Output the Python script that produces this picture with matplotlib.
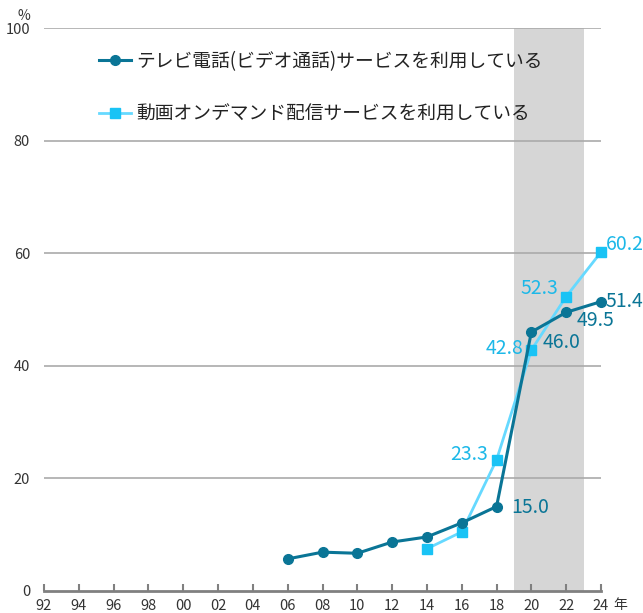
import matplotlib
matplotlib.use("Agg")
from matplotlib import pyplot as plt

plt.rcParams["font.family"] = ["Noto Sans CJK JP", "DejaVu Sans"]

years = [1992 + 2 * i for i in range(17)]
year_labels = ["92", "94", "96", "98", "00", "02", "04", "06", "08", "10",
               "12", "14", "16", "18", "20", "22", "24"]

tv_years = [2006, 2008, 2010, 2012, 2014, 2016, 2018, 2020, 2022, 2024]
tv_values = [5.7, 6.9, 6.7, 8.7, 9.6, 12.1, 15.0, 46.0, 49.5, 51.4]
tv_label = "テレビ電話(ビデオ通話)サービスを利用している"

vod_years = [2014, 2016, 2018, 2020, 2022, 2024]
vod_values = [7.5, 10.5, 23.3, 42.8, 52.3, 60.2]
vod_label = "動画オンデマンド配信サービスを利用している"

dark = "#0a7596"
light_line = "#66d9ff"
light_mark = "#19c3f5"
light_text = "#1cb8e8"

fig = plt.figure(figsize=(6.43, 6.13), dpi=100)
ax = fig.add_axes([44 / 643, 1 - 591 / 613, (601 - 44) / 643, (591 - 28) / 613])

ax.axvspan(2019, 2023, color="#d6d6d6", zorder=0, lw=0)
for y in [20, 40, 60, 80, 100]:
    ax.axhline(y, color="#aaaaaa", lw=1.2, zorder=1)

ax.plot(tv_years, tv_values, color=dark, lw=2.2, marker="o", ms=7,
        label=tv_label, zorder=4, clip_on=False)
ax.plot(vod_years, vod_values, color=light_line, lw=2, marker="s", ms=6.5,
        mfc=light_mark, mec=light_mark, label=vod_label, zorder=3, clip_on=False)

ax.set_xlim(1992, 2024)
ax.set_ylim(0, 100)
for s in ["top", "right", "left"]:
    ax.spines[s].set_visible(False)
ax.spines["bottom"].set_color("#808080")
ax.spines["bottom"].set_linewidth(2)
ax.set_xticks(years)
ax.set_xticklabels(year_labels)
ax.tick_params(axis="x", direction="in", length=5, width=1.5, color="#808080",
               labelsize=10.5, pad=6, labelcolor="#333333")
ax.set_yticks([0, 20, 40, 60, 80, 100])
ax.tick_params(axis="y", length=0, labelsize=10.5, pad=10, labelcolor="#333333")

fig.text(24 / 643, 1 - 16 / 613, "%", ha="center", va="center", fontsize=10, color="#333333")
fig.text(620 / 643, 1 - 605 / 613, "年", ha="center", va="center", fontsize=10, color="#333333")

# value labels (offsets in pixels)
lab_fs = 14
tv_offsets = {2018: (15, -1, "left"), 2020: (11, -10, "left"),
              2022: (10, -8, "left"), 2024: (4, 0, "left")}
for x, v in zip(tv_years, tv_values):
    if x in tv_offsets:
        dx, dy, ha = tv_offsets[x]
        ax.annotate(f"{v:.1f}", (x, v), xytext=(dx, dy), textcoords="offset pixels",
                    ha=ha, va="center", color=dark, fontsize=lab_fs)
vod_offsets = {2018: (-9, 5, "right"), 2020: (-8, 2, "right"),
               2022: (-8, 8, "right"), 2024: (5, 8, "left")}
for x, v in zip(vod_years, vod_values):
    if x in vod_offsets:
        dx, dy, ha = vod_offsets[x]
        ax.annotate(f"{v:.1f}", (x, v), xytext=(dx, dy), textcoords="offset pixels",
                    ha=ha, va="center", color=light_text, fontsize=lab_fs)

ax.legend(loc="upper left", bbox_to_anchor=(99 / 643, 1 - 51 / 613),
          bbox_transform=fig.transFigure, frameon=False, fontsize=13.5,
          handlelength=1.7, handletextpad=0.3, labelspacing=1.7,
          borderpad=0, borderaxespad=0, labelcolor="#222222")

fig.savefig("out.png", dpi=100)
